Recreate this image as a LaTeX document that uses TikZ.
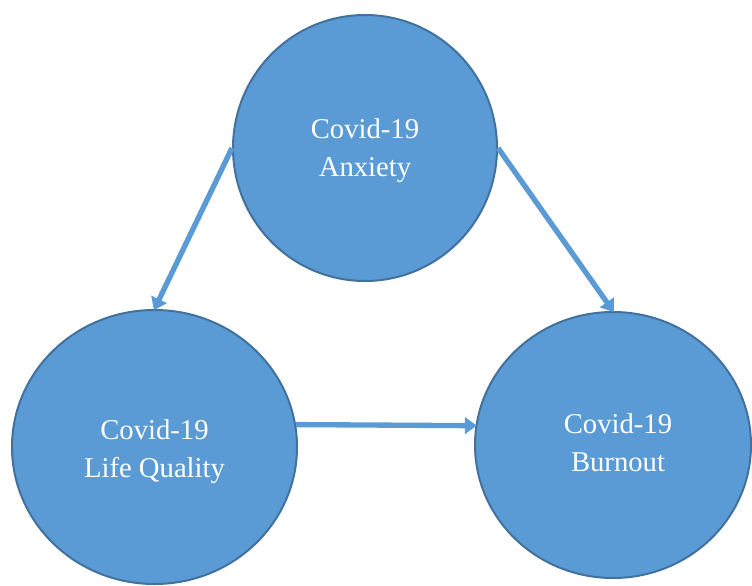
\documentclass[tikz,border=0pt]{standalone}
\usepackage{fontspec}
\setmainfont{Liberation Serif}
\usetikzlibrary{arrows.meta,shapes.geometric}

\definecolor{bubblefill}{HTML}{5B9BD5}
\definecolor{bubbleline}{HTML}{41719C}

\begin{document}
\begin{tikzpicture}[
  x=0.75pt, y=-0.75pt,
  >={Triangle[length=9pt, width=12.5pt]},
  bubble/.style={ellipse, draw=bubbleline, line width=1.5pt,
              fill=bubblefill, inner sep=0pt},
  txt/.style={text=white, align=center, inner sep=0pt,
              font=\fontsize{21.5}{28.5}\selectfont},
  arr/.style={->, draw=bubblefill, line width=4pt, shorten >=-1pt},
]
\useasboundingbox (0,0) rectangle (752,585);

% === Nodes ===
\node[bubble, minimum width=198pt, minimum height=199.5pt,
  label={[txt, yshift=-2.25pt]center:Covid-19\\Anxiety}] (anx) at (365,148) {};
\node[bubble, minimum width=213.75pt, minimum height=205.5pt,
  label={[txt, yshift=-3.75pt]center:Covid-19\\Life Quality}] (life) at (154.5,447) {};
\node[bubble, minimum width=207pt, minimum height=199.5pt,
  label={[txt, xshift=3.75pt, yshift=1.5pt]center:Covid-19\\Burnout}] (burn) at (613,445) {};

% Arrows
\draw[arr] (anx.west) -- (life.north);
\draw[arr] (anx.east) -- (burn.north);
\draw[arr] (life.9) -- (burn.172);

\end{tikzpicture}
\end{document}
